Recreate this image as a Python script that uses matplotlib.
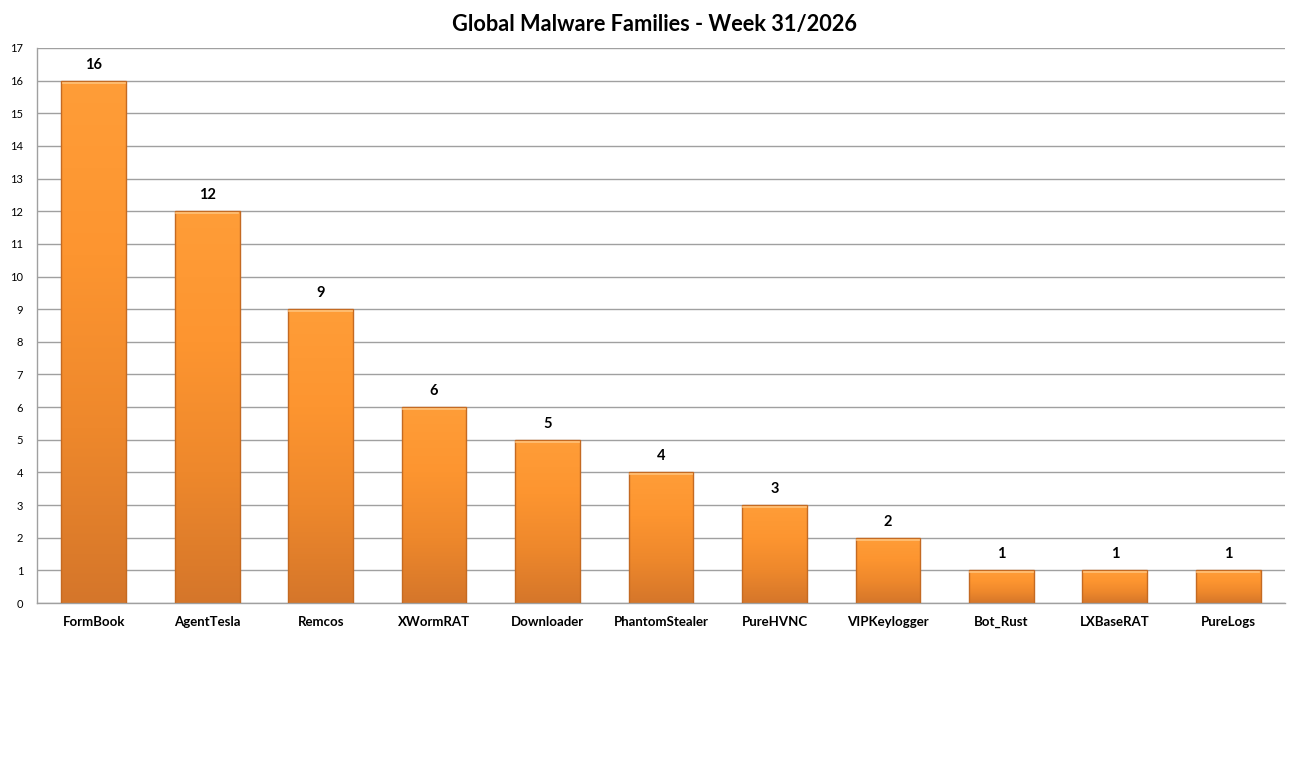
import numpy as np
import matplotlib.pyplot as plt
from matplotlib.colors import LinearSegmentedColormap
from matplotlib.patches import Rectangle

families = ["FormBook", "AgentTesla", "Remcos", "XWormRAT", "Downloader",
            "PhantomStealer", "PureHVNC", "VIPKeylogger", "Bot_Rust",
            "LXBaseRAT", "PureLogs"]
counts = [16, 12, 9, 6, 5, 4, 3, 2, 1, 1, 1]
title = "Global Malware Families - Week 31/2026"

plt.rcParams['font.family'] = ['Lato', 'DejaVu Sans']

fig = plt.figure(figsize=(13.04, 7.71), dpi=100)
ax = fig.add_axes([37 / 1304, 1 - 603 / 771, 1248 / 1304, 555 / 771])

grad = LinearSegmentedColormap.from_list(
    "bar", ["#d5762a", "#ee882c", "#fd9530", "#ff9d38"])
gimg = np.linspace(0, 1, 256).reshape(-1, 1)

width = 0.57
x = np.arange(len(families))
bars = ax.bar(x, counts, width=width, color="none", edgecolor="#c46a22",
              linewidth=1.0, zorder=3)
for b in bars:
    x0, y0 = b.get_x(), b.get_y()
    w, h = b.get_width(), b.get_height()
    im = ax.imshow(gimg, cmap=grad, origin="lower", aspect="auto",
                   extent=[x0, x0 + w, y0, y0 + h], zorder=2)
    im.set_clip_path(Rectangle((x0, y0), w, h, transform=ax.transData))
    # thin light highlight at the top
    ax.plot([x0 + 0.01, x0 + w - 0.01], [y0 + h - 0.06] * 2,
            color="#ffc27a", lw=1.2, zorder=3)

for xi, v in zip(x, counts):
    ax.text(xi, v + 0.28, str(v), ha="center", va="bottom",
            fontsize=10.5, fontweight="bold", color="black")

ax.set_xlim(-0.5, len(families) - 0.5)
ax.set_ylim(0, 17)
ax.set_yticks(range(0, 18))
ax.set_xticks(x)
ax.set_xticklabels(families, fontsize=9.5, fontweight="bold")
ax.tick_params(axis="y", labelsize=8, length=0, pad=10)
ax.tick_params(axis="x", length=0, pad=9)
ax.grid(axis="y", color="#a0a0a0", linewidth=1.0, zorder=0)
ax.set_axisbelow(True)
for s in ["top", "right"]:
    ax.spines[s].set_visible(False)
for s in ["left", "bottom"]:
    ax.spines[s].set_color("#a0a0a0")
    ax.spines[s].set_linewidth(1.0)

fig.text(655 / 1304, 1 - 25 / 771, title, ha="center", va="center",
         fontsize=15.7, fontweight="bold")

fig.savefig("out.png", dpi=100)
